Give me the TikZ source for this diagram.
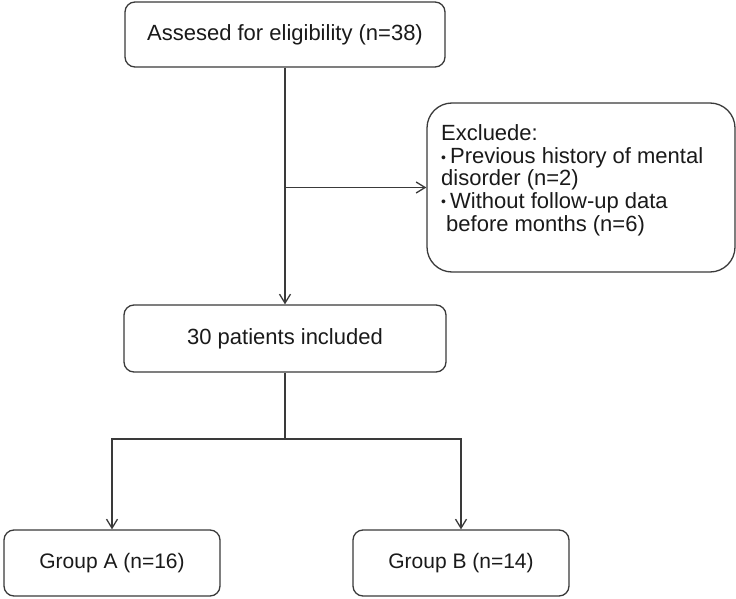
\documentclass[tikz,border=0pt]{standalone}
\usepackage{fontspec}
\setmainfont{Liberation Sans}
\usetikzlibrary{arrows.meta}
\definecolor{linec}{HTML}{3A3A3A}
\definecolor{textc}{HTML}{1A1A1A}
\newcommand{\bul}{{\fontsize{14}{14}\selectfont\raisebox{1.5pt}{•}}\hspace{4pt}}
\begin{document}
\begin{tikzpicture}[x=1pt,y=-1pt,
  box/.style={draw=linec, line width=1.3pt, rounded corners=10pt, fill=white,
    inner sep=0pt, text=textc, font=\fontsize{22}{24}\selectfont},
  arr/.style={draw=linec, line width=1.3pt, -{Straight Barb[length=9pt,width=11pt,line width=1.3pt]}},
  conn/.style={draw=linec, line width=1.3pt}]
\useasboundingbox (0,0) rectangle (736,599);
\node[box, minimum width=320pt, minimum height=65pt] (top) at (285,34.5) {Assesed for eligibility (n=38)};
\node[box, minimum width=308pt, minimum height=169pt, rounded corners=25pt] (excl) at (581,187.5) {};
\node[inner sep=0pt, anchor=base west, text=textc] (excltext) at (441,141)
  {\parbox[t]{290pt}{\raggedright\fontsize{22}{22.5}\selectfont
   Excluede:\\
   \bul Previous history of mental\\
   disorder (n=2)\\
   \bul Without follow-up data\\
   \hspace*{5pt}before months (n=6)}};
\node[box, minimum width=322pt, minimum height=67pt] (mid) at (285,338.5) {30 patients included};
\node[box, minimum width=216pt, minimum height=66pt, font=\fontsize{21}{23}\selectfont] (gA) at (112,563) {Group A (n=16)};
\node[box, minimum width=216pt, minimum height=66pt, font=\fontsize{21}{23}\selectfont] (gB) at (461,563) {Group B (n=14)};
\coordinate (br) at (285,187.5);
\coordinate (sp) at (285,439);
\draw[arr] (top.south) -- (mid.north);
\draw[arr] (br) -- (excl.west);
\draw[conn] (mid.south) -- (sp);
\draw[arr] (sp) -| (gA.north);
\draw[arr] (sp) -| (gB.north);
\end{tikzpicture}
\end{document}
